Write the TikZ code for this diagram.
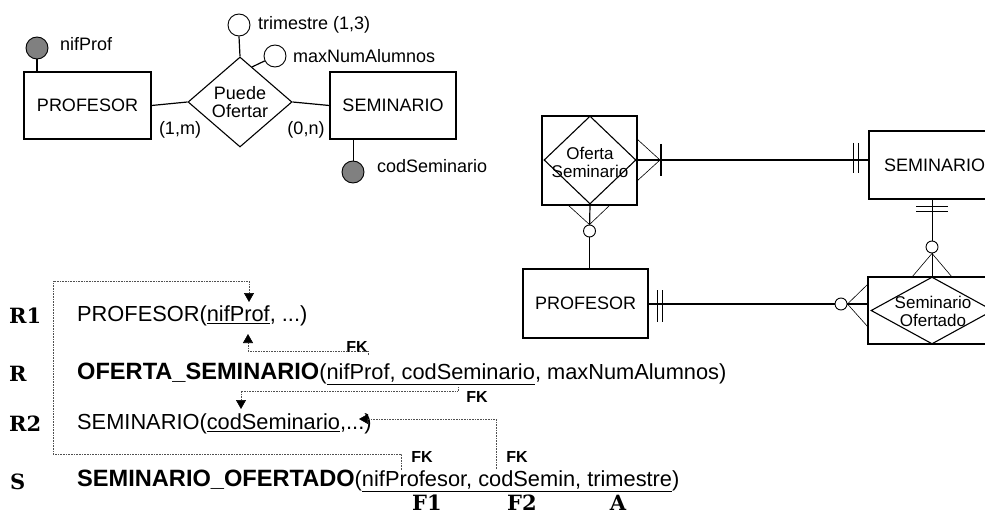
\documentclass[tikz,border=0pt]{standalone}
\usepackage{fontspec}
\newfontfamily\arial{Liberation Sans}
\newfontfamily\tagserif{DejaVu Serif}
\usetikzlibrary{shapes.geometric,arrows.meta,calc}
\newcommand\erf{\arial\fontsize{18}{21}\selectfont}
\newcommand\ersm{\arial\fontsize{17}{19}\selectfont}
\newcommand\rowf{\arial\fontsize{21.8}{24}\selectfont}
\newcommand\rowb[1]{{\fontsize{23.6}{26}\selectfont\bfseries #1}}
\newcommand\fkf{\arial\bfseries\fontsize{16}{18}\selectfont}
\newcommand\tagf{\tagserif\bfseries\fontsize{21}{23}\selectfont}
\definecolor{keygray}{RGB}{128,128,128}
\definecolor{dotgray}{RGB}{80,80,80}
\begin{document}
\begin{tikzpicture}[x=1pt,y=-1pt,
  entbox/.style={draw,line width=1.1pt,rectangle,inner sep=0pt,font=\erf},
  relshape/.style={draw,line width=1.1pt,diamond,inner sep=0pt},
  keyatt/.style={draw,line width=0.9pt,circle,fill=keygray,minimum size=22pt,inner sep=0pt},
  att/.style={draw,line width=0.9pt,circle,fill=white,minimum size=22pt,inner sep=0pt},
  lbl/.style={font=\erf,inner sep=0pt,anchor=west},
  card/.style={font=\erf,inner sep=0pt},
  conn/.style={line width=1.2pt},
  thinl/.style={line width=0.6pt},
  zero/.style={circle,draw,line width=0.9pt,fill=white,minimum size=12pt,inner sep=0pt},
  fk/.style={densely dotted,line width=0.6pt,draw=dotgray,-{Triangle[width=10pt,length=9pt,color=black]}},
  row/.style={anchor=west,inner sep=0pt,font=\rowf},
  tag/.style={font=\tagf,inner sep=0pt},
  fklbl/.style={font=\fkf,inner sep=0pt}
]
\useasboundingbox (0,0) rectangle (985,516);
\clip (0,0) rectangle (985,516);

% ---------- top-left ER ----------
\node[entbox,minimum width=127pt,minimum height=67pt] (prof1) at (87.5,105.5) {PROFESOR};
\node[entbox,minimum width=126pt,minimum height=67pt] (sem1) at (393,105.5) {SEMINARIO};
\node[relshape,minimum width=104pt,minimum height=90pt] (pd) at (240,102) {};
\node[font=\erf,align=center,inner sep=0pt] (pdtext) at (240,102) {Puede\\[-3pt]Ofertar};
\draw[conn] (prof1.east) -- (pd.west);
\draw[conn] (pd.east) -- (sem1.west);
\node[card] (c1m) at (180,130) {(1,m)};
\node[card] (c0n) at (306,130) {(0,n)};

\node[keyatt] (nifp) at (37,48) {};
\node[lbl] (nifpl) at (60,44) {nifProf};
\draw[conn] (nifp.south) -- (nifp.south |- prof1.north);

\node[att] (tri) at (239,25) {};
\node[lbl] (tril) at (258,25) {trimestre (1,3)};
\draw[conn] (tri.south) -- (pd.north);

\node[att] (mx) at (275,56) {};
\node[lbl] (mxl) at (293,56) {maxNumAlumnos};
\draw[conn] ($(pd.north)!0.23!(pd.east)$) -- (mx);

\node[keyatt] (cs) at (353,172) {};
\node[lbl] (csl) at (377,166) {codSeminario};
\draw[line width=0.7pt] (cs.north) -- (cs.north |- sem1.south);

% ---------- right ER (crow's foot) ----------
\node[entbox,minimum width=95pt,minimum height=89pt] (os) at (589.5,160.5) {};
\node[relshape,minimum width=92pt,minimum height=88pt] (osd) at (590,160) {};
\node[font=\ersm,align=center,inner sep=0pt] (ostext) at (590,162) {Oferta\\[-1pt]Seminario};

\node[entbox,minimum width=131pt,minimum height=68pt] (sem2) at (934.5,165) {SEMINARIO};
\node[entbox,minimum width=125pt,minimum height=69pt] (prof2) at (585.5,303.5) {PROFESOR};

\node[entbox,minimum width=128pt,minimum height=67pt] (so) at (932,310.5) {};
\node[relshape,minimum width=122pt,minimum height=67pt] (sod) at (932,310.5) {};
\node[font=\ersm,align=center,inner sep=0pt] (sotext) at (933,311) {Seminario\\[-1pt]Ofertado};

% Oferta Seminario -- SEMINARIO
\coordinate (osf) at (660,160);
\draw[conn] (os.east |- osf) -- (sem2.west |- osf);
\draw[thinl] (637,139) -- (osf) -- (637,181);
\draw[line width=1.3pt] (661,144) -- (661,176);
\draw[line width=1pt] (853,143) -- (853,173);
\draw[line width=1pt] (858.5,143) -- (858.5,173);

% Oferta Seminario -- PROFESOR
\node[zero] (z1) at (589.5,231) {};
\draw[conn] (osd.south) -- (z1);
\draw[conn] (z1) -- (z1 |- prof2.north);
\draw[thinl] (568,205) -- (z1.north) -- (610,205);

% SEMINARIO -- Seminario Ofertado
\node[zero] (z2) at (932,247) {};
\draw[line width=0.7pt] (z2 |- sem2.south) -- (z2);
\draw[line width=0.7pt] (z2) -- (sod.north);
\draw[line width=1pt] (916,206) -- (948,206);
\draw[line width=1pt] (916,211.5) -- (948,211.5);
\draw[thinl] (912,277) -- (z2.south) -- (952,277);

% PROFESOR -- Seminario Ofertado
\node[zero] (z3) at (841,304) {};
\draw[conn] (prof2.east |- z3) -- (z3);
\draw[conn] (z3) -- (so.west |- z3);
\draw[thinl] (868,284) -- (z3.east) -- (868,327);
\draw[line width=1pt] (657,290) -- (657,322);
\draw[line width=1pt] (662.5,290) -- (662.5,322);

% ---------- relational schema ----------
\node[tag,anchor=west] (tR1) at (9,316) {R1};
\node[tag,anchor=west] (tR) at (9,374) {R};
\node[tag,anchor=west] (tR2) at (9,424) {R2};
\node[tag,anchor=west] (tS) at (10,482) {S};

\node[row] (r1) at (77,316) {PROFESOR(\underline{nifProf}, ...)};
\node[row] (r) at (77,374) {\rowb{OFERTA\_SEMINARIO}(\underline{nifProf, codSeminario}, maxNumAlumnos)};
\node[row] (r2) at (77,424) {SEMINARIO(\underline{codSeminario},...)};
\node[row] (s) at (77,481) {\rowb{SEMINARIO\_OFERTADO}(\underline{nifProfesor, codSemin, trimestre})};

\node[tag] (f1) at (427,503) {F1};
\node[tag] (f2) at (522,503) {F2};
\node[tag] (fa) at (618,503) {A};

\node[fklbl] (fk1) at (357,347) {FK};
\node[fklbl] (fk2) at (477,397) {FK};
\node[fklbl] (fk3) at (422,457) {FK};
\node[fklbl] (fk4) at (517,457) {FK};

% FK connectors
\coordinate (a1s) at (401,470);
\coordinate (a1a) at (53,454);
\coordinate (a1b) at (249,281);
\coordinate (a1t) at (249,302);
\draw[fk] (a1s) |- (a1a) |- (a1b) -- (a1t);

\coordinate (a2s) at (368,355);
\coordinate (a2c) at (248,351);
\coordinate (a2t) at (248,334);
\draw[fk] (a2s) |- (a2c) -- (a2t);

\coordinate (a3s) at (458,387);
\coordinate (a3c) at (241,391);
\coordinate (a3t) at (241,409);
\draw[fk] (a3s) |- (a3c) -- (a3t);

\coordinate (a4s) at (496,469);
\coordinate (a4t) at (359,419);
\draw[fk] (a4s) |- (a4t);
\end{tikzpicture}
\end{document}
